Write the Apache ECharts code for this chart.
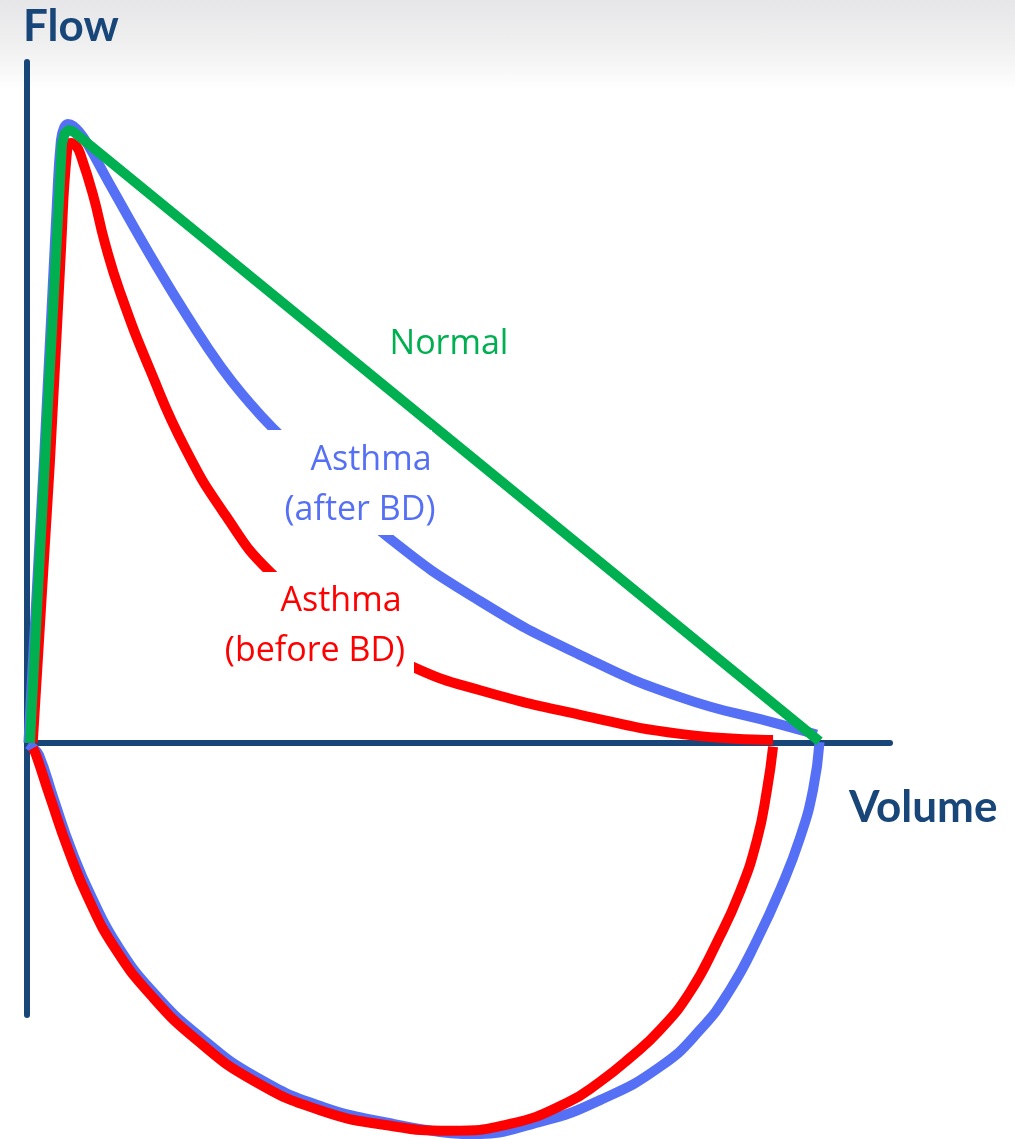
<!DOCTYPE html>
<html>
<head>
<meta charset="utf-8">
<script src="https://cdn.jsdelivr.net/npm/echarts@6/dist/echarts.min.js"></script>
<style>
html,body{margin:0;padding:0;}
body{background:linear-gradient(to bottom,#e6e6e8 0px,#f1f1f2 50px,#ffffff 90px,#ffffff 100%);}
#chart{width:1015px;height:1139px;}
</style>
</head>
<body>
<div id="chart"></div>
<script>
// ---- data (volume, flow) ----
const volumeRange = [0, 6];
const flowRange = [-4, 10];
const axisTitles = ['Flow', 'Volume'];
const labelNormal = ['Normal'];
const labelAfter = ['Asthma', '(after BD)'];
const labelBefore = ['Asthma', '(before BD)'];

const normalLoop = [
  [0.02,0],[0.125,4.15],[0.222,7.97],[0.243,8.80],[0.262,8.95],[0.29,9.0],[0.32,8.98],[0.35,8.93],[5.51,0.02]
];
const afterExp = [
  [0.01,0],[0.118,4.15],[0.209,7.97],[0.236,8.85],[0.257,9.03],[0.285,9.09],[0.327,9.05],[0.368,8.96],
  [0.417,8.81],[0.598,8.12],[0.904,6.99],[1.119,6.25],[1.349,5.52],[1.537,5.02],[1.710,4.62],[2.107,3.82],
  [2.510,3.02],[3.150,2.08],[3.845,1.29],[4.541,0.67],[5.235,0.27],[5.49,0.12]
];
const afterInsp = [
  [5.51,0.01],[5.465,-0.69],[5.374,-1.40],[5.242,-2.13],[5.075,-2.90],[4.888,-3.63],[4.679,-4.22],[4.401,-4.76],
  [3.984,-5.25],[3.567,-5.57],[3.080,-5.75],[2.871,-5.72],[2.524,-5.59],[2.058,-5.35],[1.592,-4.91],[1.203,-4.32],
  [0.883,-3.68],[0.633,-2.99],[0.452,-2.28],[0.306,-1.56],[0.188,-0.84],[0.083,-0.18],[0.042,-0.08],[0.007,-0.02]
];
const beforeExp = [
  [0.04,0],[0.16,4.15],[0.236,7.24],[0.278,8.68],[0.306,8.81],[0.341,8.77],[0.375,8.62],[0.459,8.05],
  [0.542,7.34],[0.647,6.62],[0.855,5.48],[1.099,4.33],[1.377,3.35],[1.689,2.51],[2.176,1.69],[2.698,1.10],
  [3.150,0.77],[3.845,0.41],[4.541,0.13],[5.187,0.04]
];
const beforeInsp = [
  [5.187,-0.06],[5.145,-0.69],[5.075,-1.43],[4.957,-2.19],[4.797,-2.93],[4.610,-3.66],[4.401,-4.22],[4.192,-4.63],
  [3.984,-4.98],[3.754,-5.29],[3.358,-5.60],[2.941,-5.70],[2.503,-5.62],[2.037,-5.40],[1.571,-4.96],[1.182,-4.37],
  [0.862,-3.71],[0.612,-3.02],[0.431,-2.31],[0.285,-1.56],[0.167,-0.84],[0.063,-0.18],[0.042,-0.08]
];

// ---- styles ----
const NAVY = '#184679', GREEN = '#00B050', BLUE = '#5570F5', RED = '#FF0000';
const LW = 10;

function curve(name, data, color, smooth, z) {
  return {
    name, type: 'line', data, smooth, clip: false, symbol: 'none', showSymbol: false,
    z, lineStyle: { color, width: LW, cap: 'butt', join: 'round' }, silent: true
  };
}
function txt(text, x, y, color, font, align) {
  return { type: 'text', x, y, z: 60, silent: true,
    style: { text, fill: color, font, align: align || 'center', verticalAlign: 'middle' } };
}
function box(x, y, w, h) {
  return { type: 'rect', z: 55, silent: true, shape: { x, y, width: w, height: h }, style: { fill: '#ffffff' } };
}

const chart = echarts.init(document.getElementById('chart'), null, { renderer: 'canvas' });
chart.setOption({
  animation: false,
  backgroundColor: 'transparent',
  grid: { left: 27, top: 62, width: 863, height: 953, containLabel: false },
  xAxis: {
    type: 'value', min: volumeRange[0], max: volumeRange[1],
    axisLine: { show: true, onZero: true, lineStyle: { color: NAVY, width: 6 } },
    axisTick: { show: false }, axisLabel: { show: false }, splitLine: { show: false }
  },
  yAxis: {
    type: 'value', min: flowRange[0], max: flowRange[1],
    axisLine: { show: true, onZero: false, lineStyle: { color: NAVY, width: 6 } },
    axisTick: { show: false }, axisLabel: { show: false }, splitLine: { show: false }
  },
  series: [
    curve('Asthma (after BD)', afterExp, BLUE, 0.5, 3),
    curve('Asthma (after BD) insp', afterInsp, BLUE, 0.5, 3),
    curve('Asthma (before BD)', beforeExp, RED, 0.5, 4),
    curve('Asthma (before BD) insp', beforeInsp, RED, 0.5, 4),
    curve('Normal', normalLoop, GREEN, false, 5)
  ],
  graphic: [
    box(262, 430, 170, 105),
    box(212, 572, 202, 108),
    txt(axisTitles[0], 23, 27, NAVY, 'bold 44px Lato', 'left'),
    txt(axisTitles[1], 849, 808, NAVY, 'bold 44px Lato', 'left'),
    txt(labelNormal[0], 449, 344, GREEN, '34px "Open Sans"'),
    txt(labelAfter[0], 371, 460, BLUE, '34px "Open Sans"'),
    txt(labelAfter[1], 360, 510, BLUE, '34px "Open Sans"'),
    txt(labelBefore[0], 341, 601, RED, '34px "Open Sans"'),
    txt(labelBefore[1], 315, 651, RED, '34px "Open Sans"')
  ]
});
</script>
</body>
</html>
